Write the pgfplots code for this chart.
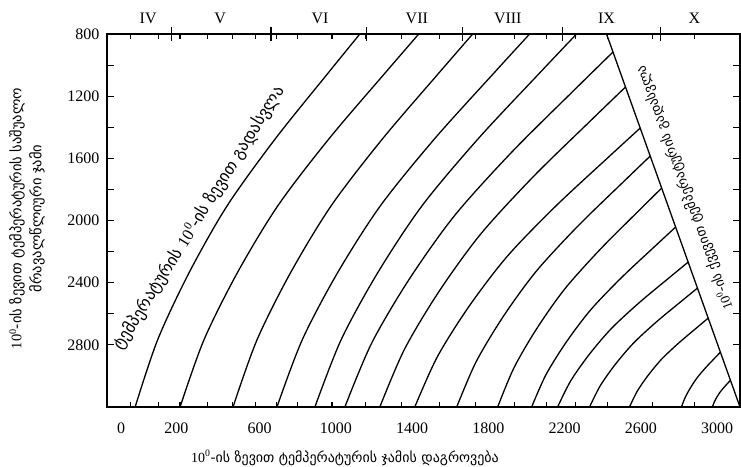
\documentclass[border=0pt]{standalone}
\usepackage{fontspec}
\setmainfont{Liberation Serif}
\newfontfamily\geo{DejaVu Sans}
\usepackage{pgfplots}
\pgfplotsset{compat=1.18}
\begin{document}
\begin{tikzpicture}
\pgfplotsset{crv/.style={black, line width=1.3pt, smooth, no markers}}
\begin{axis}[name=ax,
  scale only axis, width=633pt, height=373pt,
  xmin=-200, xmax=3120, ymin=800, ymax=3200, y dir=reverse,
  axis line style={line width=1.6pt},
  /pgf/number format/assume math mode=true,
  xtick={0,200,600,1000,1400,1800,2200,2600,3000},
  xticklabels={\makebox[0pt]{\hspace*{-48pt}0},\makebox[0pt]{\hspace*{-14pt}200},600,1000,1400,1800,2200,2600,3000},
  minor xtick={-79,68,183,325,456,581,691,801,980,1158,1346,1545,1734,1938,2106,2258,2426,2661,2881},
  ytick={800,1000,1200,1400,1600,1800,2000,2200,2400,2600,2800},
  yticklabels={800,,1200,,1600,,2000,,2400,,2800},
  tick align=inside,
  major x tick style={draw=none},
  major tick length=7pt, minor tick length=5pt,
  tick style={line width=1.1pt, black},
  ticklabel style={font=\rmfamily\fontsize{16}{16}\selectfont},
  xticklabel style={yshift=-12pt},
  yticklabel style={xshift=-4pt},
  clip=true,
]
\addplot[crv] coordinates {(-52.4,3200) (65.5,2768) (230.5,2336) (430.8,1904) (684.2,1472) (967.1,1040) (1126.2,800)};
\addplot[crv] coordinates {(183.3,3200) (308.5,2768) (483.8,2336) (696.6,1904) (965.7,1472) (1266.2,1040) (1435.2,800)};
\addplot[crv] coordinates {(461.0,3200) (586.7,2768) (762.7,2336) (976.4,1904) (1246.7,1472) (1548.4,1040) (1718.1,800)};
\addplot[crv] coordinates {(691.4,3200) (823.9,2768) (1009.4,2336) (1234.7,1904) (1519.7,1472) (1837.7,1040) (2016.6,800)};
\addplot[crv] coordinates {(890.5,3200) (1027.7,2768) (1219.9,2336) (1453.1,1904) (1748.2,1472) (2077.5,1040) (2262.8,800)};
\addplot[crv] coordinates {(1047.6,3200) (1188.2,2788.8) (1385.1,2377.7) (1624.2,1966.5) (1926.6,1555.4) (2264.1,1144.2) (2454.0,915.8)};
\addplot[crv] coordinates {(1231.0,3200) (1359.9,2829.4) (1540.2,2458.8) (1759.3,2088.1) (2036.3,1717.5) (2345.6,1346.9) (2519.5,1141.0)};
\addplot[crv] coordinates {(1414.3,3200) (1532.6,2876.9) (1698.1,2553.7) (1899.2,2230.6) (2153.5,1907.5) (2437.3,1584.3) (2597.0,1404.8)};
\addplot[crv] coordinates {(1634.3,3200) (1735.8,2909.3) (1877.9,2618.6) (2050.5,2327.9) (2268.7,2037.2) (2512.4,1746.5) (2649.4,1585.0)};
\addplot[crv] coordinates {(1849.0,3200) (1935.1,2946.3) (2055.5,2692.7) (2201.8,2439.0) (2386.9,2185.4) (2593.4,1931.7) (2709.6,1790.8)};
\addplot[crv] coordinates {(2027.1,3200) (2102.7,2991.5) (2208.5,2783.0) (2337.0,2574.6) (2499.5,2366.1) (2681.0,2157.6) (2783.0,2041.8)};
\addplot[crv] coordinates {(2163.3,3200) (2231.9,3032.1) (2327.9,2864.1) (2444.4,2696.2) (2591.9,2528.2) (2756.4,2360.3) (2849.0,2267.0)};
\addplot[crv] coordinates {(2330.9,3200) (2387.6,3062.2) (2466.9,2924.3) (2563.3,2786.5) (2685.2,2648.6) (2821.2,2510.8) (2897.7,2434.2)};
\addplot[crv] coordinates {(2540.4,3200) (2581.8,3096.9) (2639.7,2993.8) (2710.1,2890.7) (2799.1,2787.7) (2898.4,2684.6) (2954.3,2627.3)};
\addplot[crv] coordinates {(2812.8,3200) (2833.3,3136.3) (2862.1,3072.6) (2897.0,3008.8) (2941.2,2945.1) (2990.5,2881.4) (3018.2,2846.0)};
\addplot[crv] coordinates {(2975.2,3200) (2984.8,3168.7) (2998.2,3137.4) (3014.5,3106.1) (3035.1,3074.9) (3058.2,3043.6) (3071.1,3026.2)};
\addplot[black, line width=1.3pt, no markers] coordinates {(2420,800) (3120,3200)};
\node[rotate=58, font=\geo\fontsize{16.5}{16.5}\selectfont] at (axis cs:283,1984) {ტემპერატურის {\rmfamily 10\textsuperscript{0}}-ის ზევით გადასვლა};
\node[rotate=110, font=\geo\fontsize{13.5}{13.5}\selectfont] at (axis cs:2830,1790) {{\rmfamily 10\textsuperscript{0}}-ის ქვევით ტემპერატურის გადასვლა};
\end{axis}
\begin{axis}[
  scale only axis, width=633pt, height=373pt,
  at={(ax.south west)}, anchor=south west,
  xmin=-200, xmax=3120, ymin=0, ymax=1,
  axis x line*=top, axis y line=none,
  axis line style={line width=1.6pt},
  xtick={16,393,917,1425,1902,2420,2881},
  xticklabels={IV,V,VI,VII,VIII,IX,X},
  major tick length=0pt,
  minor xtick={136,660,1163,1666,2190,2703},
  minor tick length=14pt, tick align=center,
  tick style={line width=1.1pt, black},
  xticklabel style={font=\rmfamily\fontsize{16}{16}\selectfont, yshift=7pt},
]
\end{axis}
\node[rotate=90, align=center, font=\geo\fontsize{14.5}{20}\selectfont] at ([xshift=-80pt,yshift=2pt]ax.west)
  {{\rmfamily 10\textsuperscript{0}}-ის ზევით ტემპერატურის საშუალო\\მრავალწლიური ჯამი};
\node[font=\geo\fontsize{14}{14}\selectfont] at ([xshift=238pt,yshift=-51pt]ax.south west)
  {{\rmfamily 10\textsuperscript{0}}-ის ზევით ტემპერატურის ჯამის დაგროვება};
\pgfresetboundingbox
\path ([xshift=-107pt,yshift=-60pt]ax.south west) rectangle ([xshift=1pt,yshift=34pt]ax.north east);
\end{tikzpicture}
\end{document}
